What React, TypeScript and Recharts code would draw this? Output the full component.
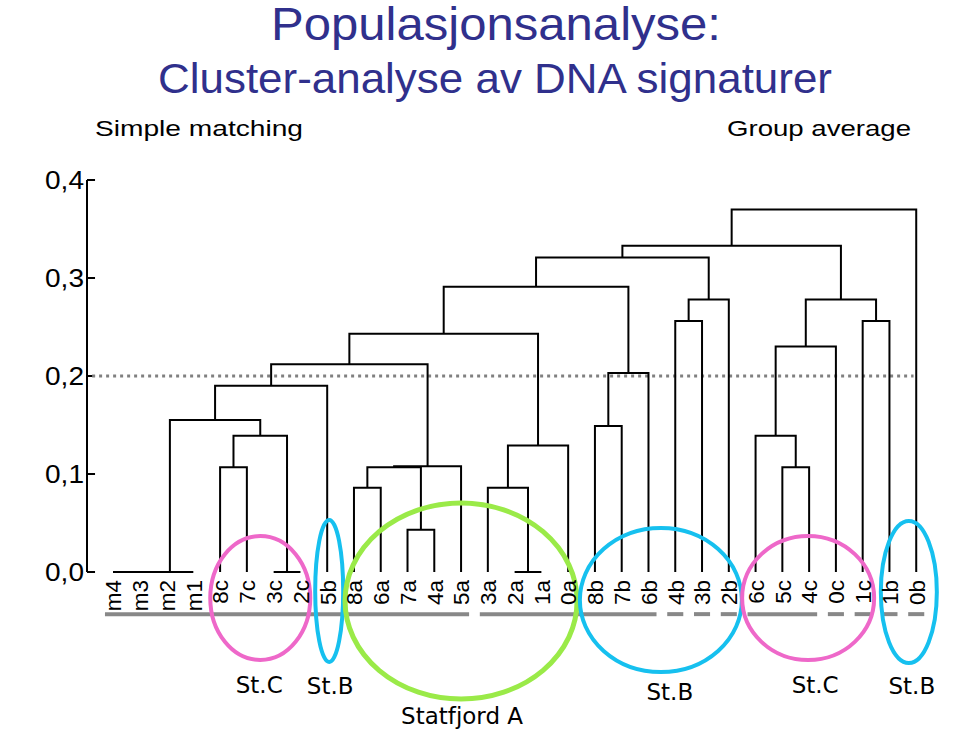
import React from "react";
import { ComposedChart, Line, XAxis, YAxis, ReferenceLine, ReferenceDot } from "recharts";

// leaf order along the bottom
const leaves = [
  "m4", "m3", "m2", "m1", "8c", "7c", "3c", "2c", "5b", "8a", "6a", "7a", "4a", "5a", "3a",
  "2a", "1a", "0a", "8b", "7b", "6b", "4b", "3b", "2b", "6c", "5c", "4c", "0c", "1c", "1b", "0b",
];

// merges (group average)
const mergeNames = [
  "m43", "m432", "M", "c1", "c2", "c3", "L0", "L", "a1", "a2", "a3", "A1", "L1", "a4", "a5",
  "A2", "L2", "b1", "B1", "L3", "b2", "B2", "L4", "c4", "c5", "C1", "b3", "C2", "L5", "root",
];
const mergeLeft = [
  "m4", "m43", "m432", "8c", "3c", "c1", "M", "L0", "8a", "7a", "a1", "a3", "L", "2a", "3a",
  "a5", "L1", "8b", "b1", "L2", "4b", "b2", "L3", "5c", "6c", "c5", "1c", "C1", "L4", "L5",
];
const mergeRight = [
  "m3", "m2", "m1", "7c", "2c", "c2", "c3", "5b", "6a", "4a", "a2", "5a", "A1", "1a", "a4",
  "0a", "A2", "7b", "6b", "B1", "3b", "2b", "B2", "4c", "c4", "0c", "1b", "b3", "C2", "0b",
];
const mergeHeight = [
  0, 0, 0, 0.107, 0, 0.139, 0.155, 0.19, 0.086, 0.043, 0.107, 0.108, 0.212, 0, 0.086,
  0.129, 0.243, 0.149, 0.203, 0.291, 0.256, 0.278, 0.321, 0.107, 0.139, 0.23, 0.256, 0.278, 0.333, 0.37,
];

const yTicks = [0, 0.1, 0.2, 0.3, 0.4];
const yTickLabels = ["0,0", "0,1", "0,2", "0,3", "0,4"];
const cutoff = 0.2;

// grey bars under the leaf labels
const underlineSpans = [
  ["m4", "5a"], ["3a", "6b"], ["4b", "4b"], ["3b", "3b"], ["2b", "2b"],
  ["6c", "4c"], ["0c", "0c"], ["1c", "1c"], ["1b", "1b"], ["0b", "0b"],
];

// circled groups
const groupLabels = ["St.C", "St.B", "Statfjord A", "St.B", "St.C", "St.B"];
const groupSpans = [["8c", "2c"], ["5b", "5b"], ["8a", "0a"], ["8b", "2b"], ["6c", "1c"], ["1b", "0b"]];

const groupColors = ["#ee68c9", "#16c0ef", "#9aea48", "#16c0ef", "#ee68c9", "#16c0ef"];
const groupShapes = [
  { dx: 0, dy: 26, rx: 50, ry: 62, lx: -1, ly: 113, w: 4 },
  { dx: 2, dy: 19, rx: 14, ry: 71, lx: 3, ly: 114, w: 4 },
  { dx: 0, dy: 29, rx: 116, ry: 98, lx: 1, ly: 144, w: 5 },
  { dx: -1, dy: 28, rx: 81, ry: 72, lx: 8, ly: 120, w: 4 },
  { dx: -1, dy: 26, rx: 66, ry: 62, lx: 6, ly: 113, w: 4 },
  { dx: 6, dy: 20, rx: 28, ry: 71, lx: 9, ly: 114, w: 4 },
];

const X_MIN = -0.971;
const X_MAX = 31;

// positions of leaves and merges
const pos: Record<string, number> = {};
const height: Record<string, number> = {};
leaves.forEach((l, i) => {
  pos[l] = i;
  height[l] = 0;
});
const links = mergeNames.map((name, i) => {
  const a = mergeLeft[i];
  const b = mergeRight[i];
  const h = mergeHeight[i];
  pos[name] = (pos[a] + pos[b]) / 2;
  height[name] = h;
  return [
    { x: pos[a], y: height[a] },
    { x: pos[a], y: h },
    { x: pos[b], y: h },
    { x: pos[b], y: height[b] },
  ];
});

const idx = (l: string) => leaves.indexOf(l);

const LeafTick = (props: any) => {
  const { x, y, payload } = props;
  const yy = y;
  return (
    <text
      x={x}
      y={yy}
      transform={`rotate(-90 ${x} ${yy})`}
      textAnchor="end"
      dy="0.37em"
      fontFamily="Liberation Sans, Arial, sans-serif"
      fontSize={22.5}
      fill="#000"
    >
      {leaves[payload.value]}
    </text>
  );
};

const ValueTick = (props: any) => {
  const { x, y, payload } = props;
  const i = yTicks.indexOf(payload.value);
  return (
    <text
      x={x}
      y={y}
      textAnchor="end"
      dominantBaseline="central"
      fontFamily="Liberation Sans, Arial, sans-serif"
      fontSize={25}
      textLength={39}
      lengthAdjust="spacingAndGlyphs"
      fill="#000"
    >
      {yTickLabels[i]}
    </text>
  );
};

const groupShape = (i: number) => (props: any) => {
  const s = groupShapes[i];
  const cx = props.cx + s.dx;
  const cy = props.cy + s.dy;
  return (
    <g>
      <ellipse cx={cx} cy={cy} rx={s.rx} ry={s.ry} fill="none" stroke={groupColors[i]} strokeWidth={s.w} />
      <text
        x={props.cx + s.lx}
        y={props.cy + s.ly}
        textAnchor="middle"
        dominantBaseline="central"
        fontFamily="DejaVu Sans, sans-serif"
        fontSize={23}
        fill="#000"
      >
        {groupLabels[i]}
      </text>
    </g>
  );
};

export default function App() {
  return (
    <div style={{ position: "absolute", left: 0, top: 0, width: 959, height: 735, background: "#fff" }}>
      <ComposedChart
        width={959}
        height={735}
        margin={{ top: 180, right: 16, bottom: 123, left: 27 }}
      >
        <XAxis
          type="number"
          dataKey="x"
          domain={[X_MIN, X_MAX]}
          ticks={leaves.map((_, i) => i)}
          interval={0}
          axisLine={false}
          tickLine={false}
          tickSize={0}
          tickMargin={8}
          height={40}
          tick={<LeafTick />}
        />
        <YAxis
          type="number"
          dataKey="y"
          domain={[0, 0.4]}
          ticks={yTicks}
          width={60}
          axisLine={{ stroke: "#000", strokeWidth: 2 }}
          tickLine={false}
          tickSize={0}
          tickMargin={3}
          tick={<ValueTick />}
        />
        {yTicks.map((t) => (
          <ReferenceLine
            key={`t${t}`}
            segment={[{ x: X_MIN, y: t }, { x: X_MIN + 0.3, y: t }]}
            stroke="#000"
            strokeWidth={2}
            ifOverflow="visible"
          />
        ))}
        <ReferenceLine
          segment={[{ x: -0.78, y: cutoff }, { x: 29.9, y: cutoff }]}
          stroke="#808080"
          strokeWidth={3}
          strokeDasharray="3 4"
          ifOverflow="visible"
        />
        {links.map((pts, i) => (
          <Line
            key={mergeNames[i]}
            data={pts}
            dataKey="y"
            type="linear"
            stroke="#000"
            strokeWidth={2}
            dot={false}
            activeDot={false}
            isAnimationActive={false}
          />
        ))}
        {underlineSpans.map(([a, b], i) => (
          <ReferenceLine
            key={`u${i}`}
            segment={[{ x: idx(a) - 0.3, y: -0.043 }, { x: idx(b) + 0.3, y: -0.043 }]}
            stroke="#888"
            strokeWidth={4}
            ifOverflow="visible"
          />
        ))}
        {groupSpans.map(([a, b], i) => (
          <ReferenceDot
            key={`g${i}`}
            x={(idx(a) + idx(b)) / 2}
            y={0}
            r={1}
            ifOverflow="visible"
            shape={groupShape(i)}
          />
        ))}
      </ComposedChart>
      <svg
        width={959}
        height={150}
        style={{ position: "absolute", left: 0, top: 0, pointerEvents: "none" }}
      >
        <text x={271} y={40} fontFamily="Liberation Sans, Arial, sans-serif" fontSize={46} fill="#30308c" textLength={450} lengthAdjust="spacingAndGlyphs">
          Populasjonsanalyse:
        </text>
        <text x={158} y={93} fontFamily="Liberation Sans, Arial, sans-serif" fontSize={43} fill="#30308c" textLength={674} lengthAdjust="spacingAndGlyphs">
          Cluster-analyse av DNA signaturer
        </text>
        <text x={95} y={136} fontFamily="Liberation Sans, Arial, sans-serif" fontSize={22} fill="#000" textLength={208} lengthAdjust="spacingAndGlyphs">
          Simple matching
        </text>
        <text x={727} y={136} fontFamily="Liberation Sans, Arial, sans-serif" fontSize={22} fill="#000" textLength={184} lengthAdjust="spacingAndGlyphs">
          Group average
        </text>
      </svg>
    </div>
  );
}
